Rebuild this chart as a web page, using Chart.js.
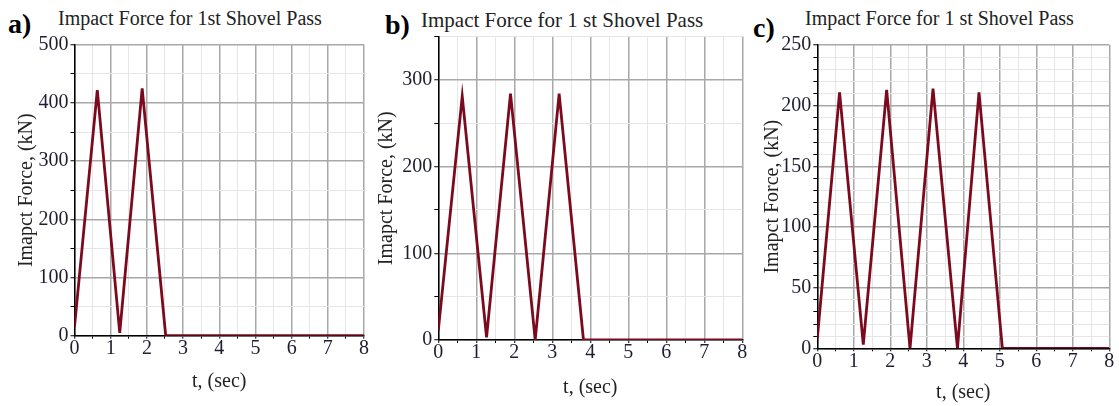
<!DOCTYPE html>
<html>
<head>
<meta charset="utf-8">
<script src="https://cdn.jsdelivr.net/npm/chart.js@4"></script>
<style>
  body { margin: 0; background: #fff; width: 1119px; height: 406px; position: relative; overflow: hidden; }
  .panel { position: absolute; top: 0; height: 406px; }
  .tag { position: absolute; font: bold 28px "Liberation Serif", "Times New Roman", serif; line-height: 1; color: #000; }
  .ttl { position: absolute; font-family: "Liberation Serif", "Times New Roman", serif; line-height: 1; color: #222; white-space: nowrap; }
</style>
</head>
<body>
<div class="tag" style="left:8px;top:10px">a)</div>
<div class="tag" style="left:385px;top:11px">b)</div>
<div class="tag" style="left:753px;top:14px">c)</div>
<div class="ttl" style="left:58px;top:8px;font-size:20px">Impact Force for 1st Shovel Pass</div>
<div class="ttl" style="left:421px;top:10px;font-size:21px">Impact Force for 1 st Shovel Pass</div>
<div class="ttl" style="left:805px;top:8px;font-size:20px">Impact Force for 1 st Shovel Pass</div>

<div class="panel" style="left:0;width:372px"><canvas id="chartA"></canvas></div>
<div class="panel" style="left:372px;width:378px"><canvas id="chartB"></canvas></div>
<div class="panel" style="left:750px;width:369px"><canvas id="chartC"></canvas></div>

<script>
// shovel pass impact force, time in seconds, force in kN
const timeA  = [0, 0.63, 1.25, 1.87, 2.52, 8];
const forceA = [15, 422, 5, 425, 0, 0];

const timeB  = [0, 0.63, 1.27, 1.9, 2.55, 3.18, 3.82, 8];
const forceB = [11, 281, 3, 284, 0, 284, 0, 0];

const timeC  = [0, 0.61, 1.26, 1.9, 2.54, 3.17, 3.84, 4.43, 5.07, 8];
const forceC = [8, 211, 3, 213, 0, 214, 0, 211, 0, 0];

const serif = '"Liberation Serif", "Times New Roman", serif';
const lineColor = '#7c0a1e';

function makeChart(id, times, forces, o) {
    const ctx = document.getElementById(id).getContext('2d');
    return new Chart(ctx, {
        type: 'line',
        data: {
            datasets: [{
                data: times.map((t, i) => ({ x: t, y: forces[i] })),
                borderColor: lineColor,
                borderWidth: 2.8,
                pointRadius: 0,
                tension: 0,
                fill: false
            }]
        },
        options: {
            responsive: true,
            maintainAspectRatio: false,
            animation: false,
            layout: { padding: { top: o.top, right: o.right, left: 0, bottom: 0 } },
            plugins: { legend: { display: false }, tooltip: { enabled: false } },
            scales: {
                x: {
                    type: 'linear',
                    min: 0,
                    max: 8,
                    afterFit: axis => { axis.height = o.xHeight; },
                    border: { color: '#000', width: 1.5 },
                    grid: {
                        color: c => (c.tick && c.tick.value % 1 === 0) ? '#a8a8a8' : '#e6e6e6',
                        lineWidth: c => (c.tick && c.tick.value % 1 === 0) ? 1.5 : 1,
                        tickColor: '#000',
                        tickLength: 3,
                        tickWidth: 1
                    },
                    ticks: {
                        stepSize: 0.5,
                        autoSkip: false,
                        maxRotation: 0,
                        padding: 0,
                        color: '#1e1e30',
                        font: { family: serif, size: 20, lineHeight: 1 },
                        callback: v => v % 1 === 0 ? String(v) : ''
                    },
                    title: {
                        display: true,
                        text: 't, (sec)',
                        color: '#222',
                        font: { family: serif, size: 20 },
                        padding: { top: 0, bottom: o.xTitlePad }
                    }
                },
                y: {
                    min: 0,
                    max: o.yMax,
                    afterFit: axis => { axis.width = o.yWidth; },
                    border: { color: '#000', width: 1.5 },
                    grid: {
                        color: c => (c.tick && c.tick.value % o.yMajor === 0) ? '#a8a8a8' : '#e6e6e6',
                        lineWidth: c => (c.tick && c.tick.value % o.yMajor === 0) ? 1.5 : 1,
                        tickColor: '#000',
                        tickLength: 4,
                        tickWidth: 1
                    },
                    ticks: {
                        stepSize: o.yMinor,
                        autoSkip: false,
                        padding: 2,
                        color: '#1e1e30',
                        font: { family: serif, size: 20 },
                        callback: v => v % o.yLabel === 0 ? String(v) : ''
                    },
                    title: {
                        display: true,
                        text: 'Imapct Force, (kN)',
                        color: '#222',
                        font: { family: serif, size: 20 },
                        padding: { top: o.yTitlePad, bottom: 0 }
                    }
                }
            }
        }
    });
}

makeChart('chartA', timeA, forceA, {
    top: 44.7, right: 8, xHeight: 70.3, yWidth: 74.5,
    yMax: 500, yMinor: 50, yMajor: 100, yLabel: 100,
    yTitlePad: 15, xTitlePad: 12
});
makeChart('chartB', timeB, forceB, {
    top: 36.5, right: 7.7, xHeight: 66, yWidth: 66.3,
    yMax: 350, yMinor: 50, yMajor: 100, yLabel: 100,
    yTitlePad: 3, xTitlePad: 6.5
});
makeChart('chartC', timeC, forceC, {
    top: 45, right: 9.7, xHeight: 57.7, yWidth: 67.3,
    yMax: 250, yMinor: 10, yMajor: 50, yLabel: 50,
    yTitlePad: 11, xTitlePad: 1
});
</script>
</body>
</html>
